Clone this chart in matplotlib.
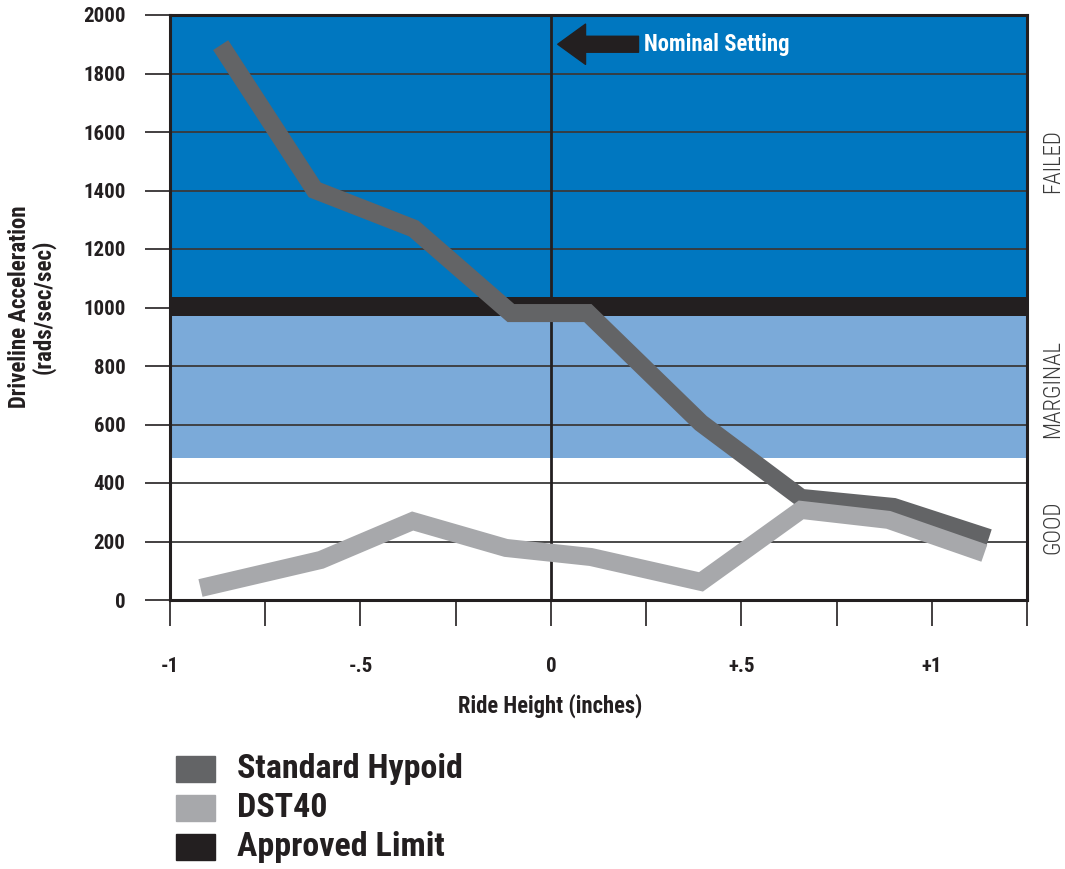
import matplotlib
matplotlib.use("Agg")
import matplotlib.pyplot as plt
from matplotlib.patches import Rectangle

plt.rcParams['font.family'] = ['Roboto Condensed', 'Archivo Narrow', 'PT Sans Narrow', 'DejaVu Sans']

# data
hypoid_x = [-0.867, -0.62, -0.36, -0.105, 0.097, 0.394, 0.657, 0.90, 1.15]
hypoid_y = [1897, 1402, 1270, 981, 981, 605, 349, 318, 212]
dst40_x = [-0.92, -0.604, -0.363, -0.118, 0.105, 0.394, 0.657, 0.886, 1.138]
dst40_y = [41, 137, 270, 178, 147, 62, 308, 274, 160]

limit_low, limit_high = 971, 1036
marginal_low = 485

x_ticks = [-1, -0.75, -0.5, -0.25, 0, 0.25, 0.5, 0.75, 1, 1.25]
x_labels = ['-1', '', '-.5', '', '0', '', '+.5', '', '+1', '']
y_ticks = [0, 200, 400, 600, 800, 1000, 1200, 1400, 1600, 1800, 2000]

zone_names = ['FAILED', 'MARGINAL', 'GOOD']
zone_y_px = [161, 389, 527]

legend_names = ['Standard Hypoid', 'DST40', 'Approved Limit']

c_dark_blue = '#0077c0'
c_light_blue = '#7baad9'
c_black = '#231f20'
c_hypoid = '#636466'
c_dst = '#a7a8ab'
legend_colors = [c_hypoid, c_dst, c_black]

W, H = 1065, 869
fig = plt.figure(figsize=(W / 100, H / 100), dpi=100)
ax = fig.add_axes([170 / W, 1 - 600 / H, (1027 - 170) / W, (600 - 15) / H])

ax.set_xlim(-1, 1.25)
ax.set_ylim(0, 2000)

# zones
ax.axhspan(limit_high, 2000, color=c_dark_blue, lw=0, zorder=0)
ax.axhspan(marginal_low, limit_low, color=c_light_blue, lw=0, zorder=0)

for y in y_ticks[1:-1]:
    ax.axhline(y, color='#3a3a3a', lw=1.3, zorder=1)

ax.axhspan(limit_low, limit_high, color=c_black, lw=0, zorder=1.5)
ax.axvline(0, color=c_black, lw=2, zorder=1.6)

ax.plot(hypoid_x, hypoid_y, color=c_hypoid, lw=13, solid_capstyle='butt',
        solid_joinstyle='miter', zorder=3)
ax.plot(dst40_x, dst40_y, color=c_dst, lw=13, solid_capstyle='butt',
        solid_joinstyle='miter', zorder=3.1)

# nominal setting arrow
ax.annotate('', xy=(0.018, 1900), xytext=(0.23, 1900),
            arrowprops=dict(width=11.5, headwidth=29, headlength=20,
                            color=c_black, shrink=0), zorder=4)
ax.text(0.244, 1900, 'Nominal Setting', color='white', fontsize=16.3,
        fontweight='bold', va='center', ha='left', zorder=4)

for s in ax.spines.values():
    s.set_linewidth(2.2)
    s.set_color(c_black)

ax.set_xticks(x_ticks)
ax.set_xticklabels(x_labels)
ax.set_yticks(y_ticks)
ax.tick_params(axis='x', direction='out', length=19, width=1.2, pad=22,
               labelsize=15, colors=c_black)
ax.tick_params(axis='y', direction='out', length=18, width=1.2, pad=14,
               labelsize=15, colors=c_black)
for lab in ax.get_xticklabels() + ax.get_yticklabels():
    lab.set_fontweight('bold')

ax.set_xlabel('Ride Height (inches)', fontsize=16.3, fontweight='bold',
              labelpad=13, color=c_black, x=(550 - 170) / (1027 - 170))
fig.text(32 / W, 1 - 307 / H, 'Driveline Acceleration\n(rads/sec/sec)',
         rotation=90, ha='center', va='center', fontsize=16.5,
         fontweight='bold', multialignment='center', color=c_black,
         linespacing=1.0)

for name, ypx in zip(zone_names, zone_y_px):
    fig.text(1064 / W, 1 - ypx / H, name, rotation=90, ha='right',
             va='center', fontsize=16.5, fontweight='light', color='#3a3a3a')

# legend
leg_y_px = [769, 808, 847]
for name, col, ypx in zip(legend_names, legend_colors, leg_y_px):
    fig.patches.append(Rectangle((176 / W, 1 - (ypx + 13) / H), 39 / W, 26 / H,
                                 transform=fig.transFigure, color=col,
                                 figure=fig))
    fig.text(237 / W, 1 - ypx / H, name, ha='left', va='center',
             fontsize=24.5, fontweight='bold', color=c_black)

fig.savefig('out.png', dpi=100)
